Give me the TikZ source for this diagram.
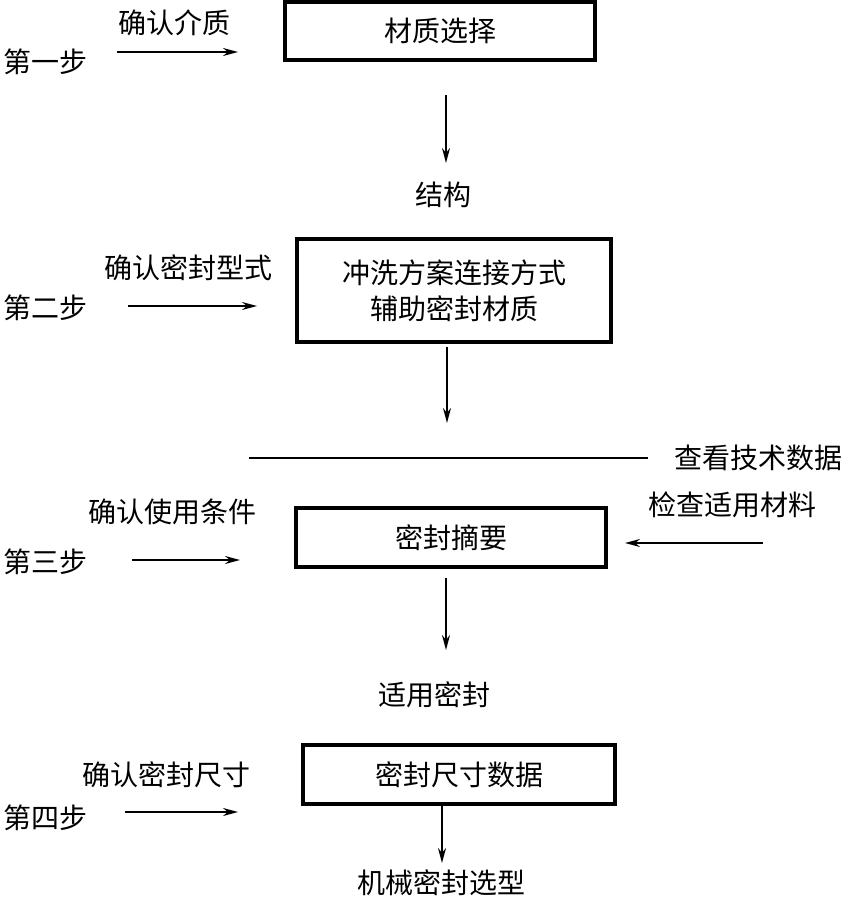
\documentclass[tikz,border=0pt]{standalone}
\usepackage{fontspec}
\setmainfont{Noto Sans CJK SC}
\usetikzlibrary{arrows.meta}
\begin{document}
\begin{tikzpicture}[x=1pt,y=-1pt,
  box/.style={draw, line width=3.2pt, inner sep=0pt, font=\fontsize{28}{36}\selectfont, align=center},
  lbl/.style={font=\fontsize{28}{36}\selectfont, inner sep=0pt},
  arr/.style={line width=1.8pt, -{Stealth[length=15pt,width=8pt]}},
  plain/.style={line width=1.8pt}]
\useasboundingbox (0,0) rectangle (855,900);
% boxes
\node[box, minimum width=310pt, minimum height=58pt] (b1) at (440,31) {材质选择};
\node[box, minimum width=314pt, minimum height=103pt] (b2) at (454,290.5) {冲洗方案连接方式\\辅助密封材质};
\node[box, minimum width=310pt, minimum height=59pt] (b3) at (451,537.5) {密封摘要};
\node[box, minimum width=312pt, minimum height=59pt] (b4) at (459,774.5) {密封尺寸数据};
% middle labels
\node[lbl] (m1) at (443,195) {结构};
\node[lbl] (m2) at (434,695) {适用密封};
\node[lbl] (m3) at (441,883) {机械密封选型};
% left labels
\node[lbl] (s1) at (46,62) {第一步};
\node[lbl] (c1) at (174,23) {确认介质};
\node[lbl] (s2) at (46,308) {第二步};
\node[lbl] (c2) at (188,268) {确认密封型式};
\node[lbl] (s3) at (46,562) {第三步};
\node[lbl] (c3) at (172,512) {确认使用条件};
\node[lbl] (s4) at (46,818) {第四步};
\node[lbl] (c4) at (166,775) {确认密封尺寸};
% right labels
\node[lbl] (r1) at (758,458) {查看技术数据};
\node[lbl] (r2) at (732,505) {检查适用材料};
% coordinates
\coordinate (a1s) at (117,52);  \coordinate (a1e) at (238,52);
\coordinate (a2s) at (128,306); \coordinate (a2e) at (257,306);
\coordinate (a3s) at (132,560); \coordinate (a3e) at (240,560);
\coordinate (a4s) at (125,812); \coordinate (a4e) at (238,812);
\coordinate (rs) at (763,543);  \coordinate (re) at (625,543);
\coordinate (ls) at (249,458);  \coordinate (le) at (648,458);
\coordinate (d1s) at (446,95);  \coordinate (d1e) at (446,163);
\coordinate (d2s) at (447,347); \coordinate (d2e) at (447,423);
\coordinate (d3s) at (446,578); \coordinate (d3e) at (446,650);
\coordinate (d4s) at (442,804); \coordinate (d4e) at (442,863);
% connectors
\draw[arr] (a1s) -- (a1e);
\draw[arr] (a2s) -- (a2e);
\draw[arr] (a3s) -- (a3e);
\draw[arr] (a4s) -- (a4e);
\draw[arr] (rs) -- (re);
\draw[plain] (ls) -- (le);
\draw[arr] (d1s) -- (d1e);
\draw[arr] (d2s) -- (d2e);
\draw[arr] (d3s) -- (d3e);
\draw[arr] (d4s) -- (d4e);
\end{tikzpicture}
\end{document}
